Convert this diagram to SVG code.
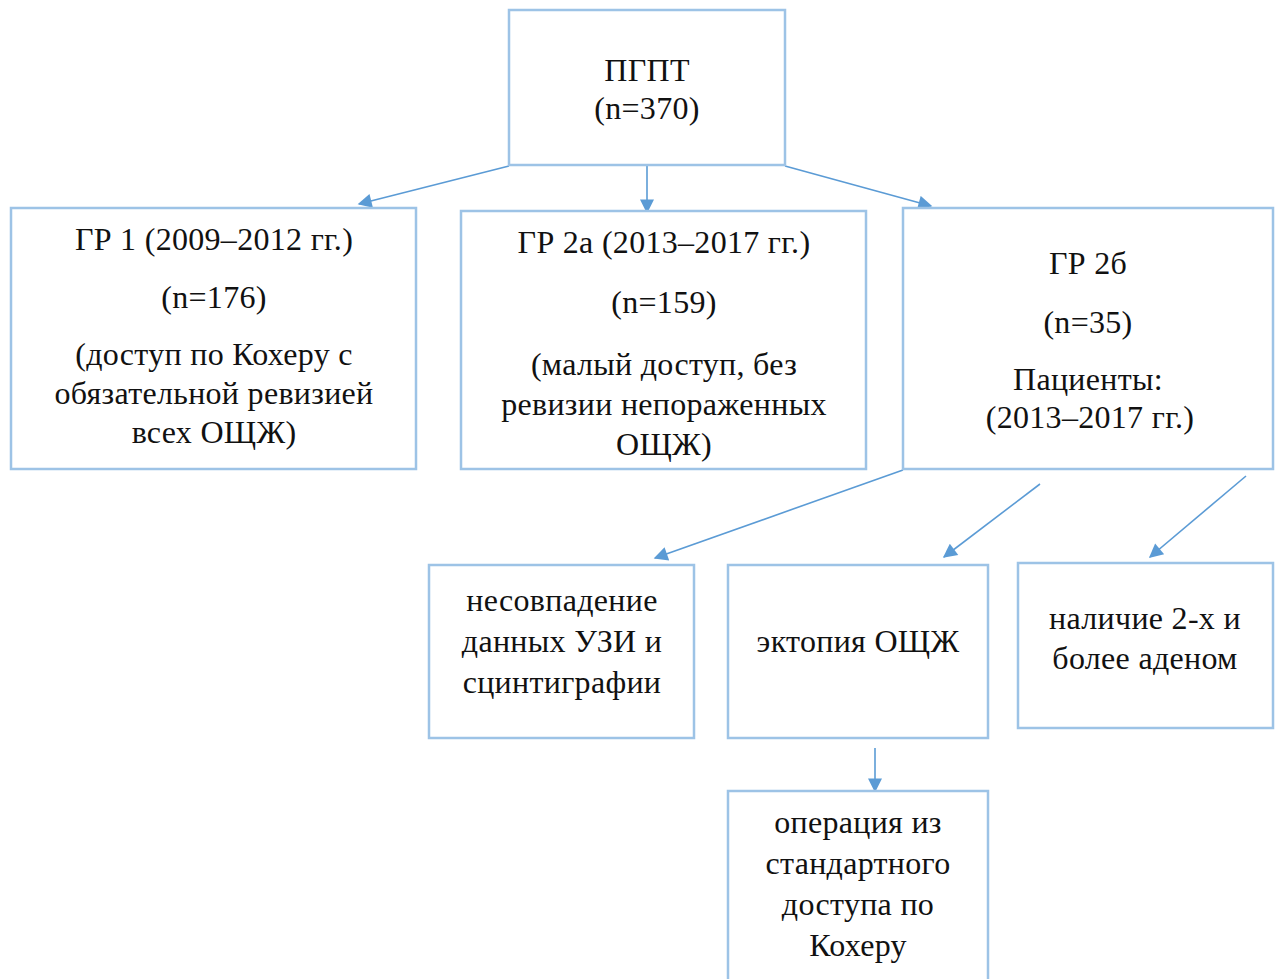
<svg xmlns="http://www.w3.org/2000/svg" width="1280" height="979" viewBox="0 0 1280 979">
<style>
.box{fill:#fff;stroke:#9dc3e6;stroke-width:2.5}
.t{font-family:"Liberation Serif","Times New Roman",serif;font-size:32px;letter-spacing:0.3px;fill:#111;text-anchor:middle}
.c{stroke:#5b9bd5;stroke-width:1.6;fill:none;marker-end:url(#ah)}
</style>
<defs>
<marker id="ah" viewBox="0 0 10 10" refX="9" refY="5" markerWidth="16" markerHeight="14" markerUnits="userSpaceOnUse" orient="auto">
<path d="M0,0 L10,5 L0,10 Z" fill="#5b9bd5"/>
</marker>
</defs>
<rect width="1280" height="979" fill="#fff"/>
<g id="connectors">
<line class="c" x1="509" y1="166" x2="359" y2="204"/>
<line class="c" x1="647" y1="166" x2="647" y2="212"/>
<line class="c" x1="785" y1="166" x2="931" y2="206"/>
<line class="c" x1="903" y1="470" x2="655" y2="558"/>
<line class="c" x1="1040" y1="484" x2="944" y2="557"/>
<line class="c" x1="1246" y1="476" x2="1150" y2="557"/>
<line class="c" x1="875" y1="748" x2="875" y2="791"/>
</g>
<g id="n-top">
<rect class="box" x="509" y="10" width="276" height="155"/>
<text class="t" x="647" y="81">ПГПТ</text>
<text class="t" x="647" y="119">(n=370)</text>
</g>
<g id="n-gr1">
<rect class="box" x="11" y="208" width="405" height="261"/>
<text class="t" x="214" y="250">ГР 1 (2009–2012 гг.)</text>
<text class="t" x="214" y="308">(n=176)</text>
<text class="t" x="214" y="365">(доступ по Кохеру с</text>
<text class="t" x="214" y="404">обязательной ревизией</text>
<text class="t" x="214" y="443">всех ОЩЖ)</text>
</g>
<g id="n-gr2a">
<rect class="box" x="461" y="211" width="405" height="258"/>
<text class="t" x="664" y="253">ГР 2а (2013–2017 гг.)</text>
<text class="t" x="664" y="313">(n=159)</text>
<text class="t" x="664" y="375">(малый доступ, без</text>
<text class="t" x="664" y="415">ревизии непораженных</text>
<text class="t" x="664" y="455">ОЩЖ)</text>
</g>
<g id="n-gr2b">
<rect class="box" x="903" y="208" width="370" height="261"/>
<text class="t" x="1088" y="274">ГР 2б</text>
<text class="t" x="1088" y="333">(n=35)</text>
<text class="t" x="1088" y="390">Пациенты:</text>
<text class="t" x="1090" y="428">(2013–2017 гг.)</text>
</g>
<g id="n-mismatch">
<rect class="box" x="429" y="565" width="265" height="173"/>
<text class="t" x="562" y="611">несовпадение</text>
<text class="t" x="562" y="652">данных УЗИ и</text>
<text class="t" x="562" y="693">сцинтиграфии</text>
</g>
<g id="n-ectopia">
<rect class="box" x="728" y="565" width="260" height="173"/>
<text class="t" x="858" y="652">эктопия ОЩЖ</text>
</g>
<g id="n-adenomas">
<rect class="box" x="1018" y="563" width="255" height="165"/>
<text class="t" x="1145" y="629">наличие 2-х и</text>
<text class="t" x="1145" y="669">более аденом</text>
</g>
<g id="n-operation">
<rect class="box" x="728" y="791" width="260" height="200"/>
<text class="t" x="858" y="833">операция из</text>
<text class="t" x="858" y="874">стандартного</text>
<text class="t" x="858" y="915">доступа по</text>
<text class="t" x="858" y="956">Кохеру</text>
</g>
</svg>
